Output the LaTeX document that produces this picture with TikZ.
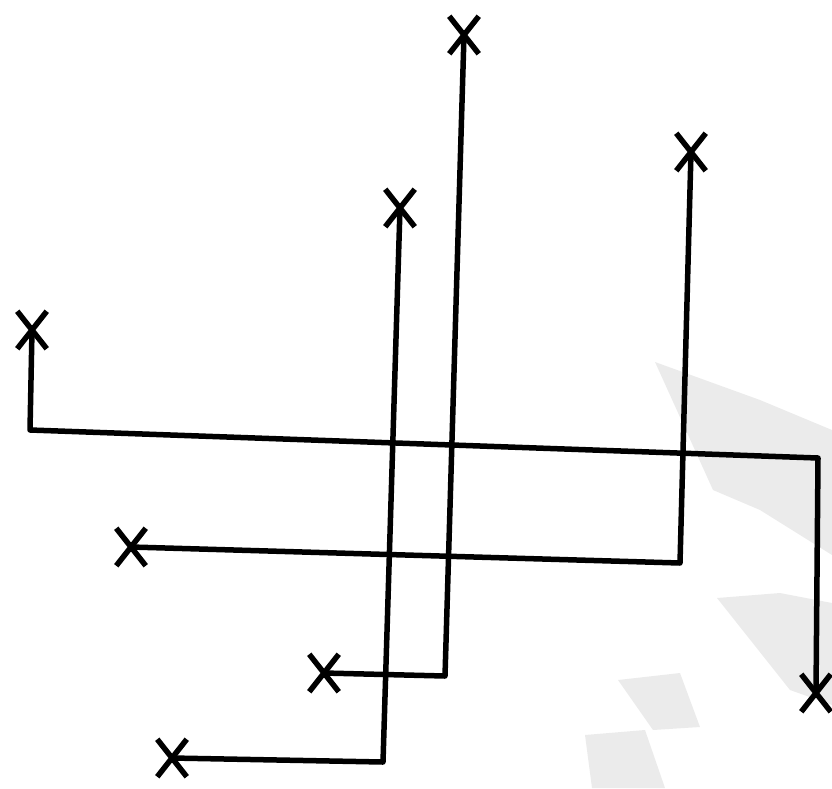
\documentclass[tikz,border=0pt]{standalone}
\usetikzlibrary{shapes.misc}

\begin{document}
\begin{tikzpicture}[x=1pt, y=-1pt,
    cross/.style={draw, cross out, line width=5.5pt, minimum width=24pt,
                  minimum height=32pt, inner sep=0pt},
    wire/.style={line width=5.5pt, line join=round},
    shade/.style={fill=black!8, draw=none},
]
\useasboundingbox (0,0) rectangle (832,788);
% scanner shadows
\fill[shade] (655,362) -- (760,400) -- (832,430) -- (832,555) -- (760,510) -- (713,490) -- cycle;
\fill[shade] (717,598) -- (780,593) -- (832,603) -- (832,705) -- (790,690) -- cycle;
\fill[shade] (618,680) -- (680,673) -- (700,727) -- (653,730) -- cycle;
\fill[shade] (585,735) -- (645,730) -- (665,788) -- (592,788) -- cycle;

% end marks
\node[cross] (xleft) at (32,330) {};
\node[cross] (xright) at (816,693) {};
\node[cross] (xtop) at (464,35) {};
\node[cross] (xmid) at (324,673) {};
\node[cross] (xinner) at (400,208) {};
\node[cross] (xlow) at (172,758) {};
\node[cross] (xupright) at (691,152) {};
\node[cross] (xside) at (131,547) {};

% corners
\coordinate (cA1) at (30,430);
\coordinate (cA2) at (818,458);
\coordinate (cB) at (445,676);
\coordinate (cC) at (383,762);
\coordinate (cD) at (680,563);

% routes
\draw[wire] (xleft.center) -- (cA1) -- (cA2) -- (xright.center);
\draw[wire] (xtop.center) -- (cB) -- (xmid.center);
\draw[wire] (xinner.center) -- (cC) -- (xlow.center);
\draw[wire] (xupright.center) -- (cD) -- (xside.center);
\end{tikzpicture}
\end{document}
